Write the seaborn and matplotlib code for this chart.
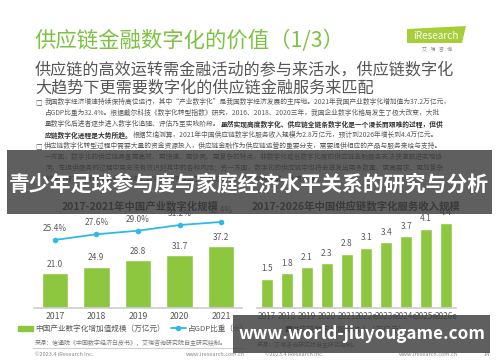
import matplotlib
matplotlib.use("Agg")
import matplotlib.pyplot as plt
import matplotlib.patches as mpatches
from matplotlib.lines import Line2D
import seaborn as sns
import numpy as np

sns.set_theme(style="white")
plt.rcParams['font.family'] = ['Noto Sans CJK SC', 'DejaVu Sans']

# data
years_left = ["2017", "2018", "2019", "2020", "2021"]
scale_left = [21.0, 24.9, 28.8, 31.7, 37.2]
gdp_share = [25.4, 27.6, 29.0, 31.2, 32.4]

years_right = ["2017", "2018", "2019", "2020", "2021",
               "2022e", "2023e", "2024e", "2025e", "2026e"]
revenue_right = [1.5, 1.8, 2.1, 2.3, 2.8, 3.1, 3.4, 3.7, 4.1, 4.4]

GREEN = "#8dc63f"
CYAN = "#2fb9e6"
GRAY = "#595959"

W, H = 500, 362
fig = plt.figure(figsize=(5, 3.62), dpi=100)
fig.patch.set_facecolor("white")


def fx(x):
    return x / W


def fy(y):
    return 1 - y / H


def txt(x, y, s, **kw):
    return fig.text(fx(x), fy(y), s, **kw)


# header
txt(35, 41, "供应链金融数字化的价值（1/3）", fontsize=15.4, color="#7dc242", va="center")
txt(35, 70, "供应链的高效运转需金融活动的参与来活水，供应链数字化", fontsize=11.6,
    color="#555555", va="center")
txt(35, 88, "大趋势下更需要数字化的供应链金融服务来匹配", fontsize=11.6,
    color="#555555", va="center")

# logo
logo = mpatches.Polygon([(fx(407), fy(43)), (fx(462), fy(43)), (fx(466), fy(26)), (fx(407), fy(29))],
                        closed=True, transform=fig.transFigure, facecolor="#a6ce39", edgecolor="none")
fig.add_artist(logo)
txt(436, 36, "iResearch", fontsize=7.2, color="white", ha="center", va="center")
txt(437, 50, "艾   瑞   咨   询", fontsize=3.6, color="#888888", ha="center", va="center")

# bullet paragraph
renderer = fig.canvas.get_renderer()


def seg_line(x, y, segments, size=4.85):
    for s, bold in segments:
        t = txt(x, y, s, fontsize=size, va="center",
                color="#333333" if bold else GRAY,
                fontweight="bold" if bold else "normal")
        bb = t.get_window_extent(renderer)
        x += bb.width


lines = [
    (36, 102, [("□ ", False), ("我国数字经济增速持续保持高位运行，其中“产业数字化”是我国数字经济发展的主阵地。2021年我国产业数字化增加值为37.2万亿元，", False)]),
    (45, 113, [("占GDP比重为32.4%。根据戴尔科技《数字化转型指数》研究，2016、2018、2020三年，我国企业数字化格局发生了极大改变，大批", False)]),
    (45, 124, [("量数字化后进者逐步进入数字化追随、评估乃至实践阶段。", False), ("虽然实现高度数字化、供应链全链条数字化是一个漫长而艰难的过程，但供", True)]),
    (45, 135, [("应链数字化进程是大势所趋。", True), ("根据艾瑞测算，2021年中国供应链数字化服务收入规模为2.8万亿元，预计到2026年增长到4.4万亿元。", False)]),
    (36, 146, [("□ ", False), ("供应链数字化转型过程中需要大量的资金资源投入，供应链金融作为供应链运营的重要分支，需要提供相应的产品与服务来给与支持。", False)]),
    (45, 157, [("一方面，数字化的供应链具备更高效、更快速、更协同、更复杂的特点，非数字化或低数字化度的供应链金融服务无法快速跟进实现协", False)]),
    (45, 168, [("同，在提供服务的过程中更无法有效识别其中的各种风险；另一方面，数字化的供应链中也将会迸发出更多数量、更高要求、更加复杂", False)]),
    (45, 179, [("的金融需求，对供应链金融服务的数字化水平提出了更高的要求，两者相辅相成、共同发展。", False)]),
]
for x, y, segs in lines:
    seg_line(x, y, segs)

# chart titles
txt(140, 206, "2017-2021年中国产业数字化规模", fontsize=7.5, fontweight="bold",
    color="#333333", ha="center", va="center")
txt(356, 206, "2017-2026年中国供应链数字化服务收入规模", fontsize=7.5, fontweight="bold",
    color="#333333", ha="center", va="center")

# left chart
axl = fig.add_axes([fx(34), fy(308), (242 - 34) / W, 93 / H])
sns.barplot(x=years_left, y=scale_left, color=GREEN, width=0.63, saturation=1, ax=axl)
axl.bar_label(axl.containers[0], fmt="%.1f", fontsize=6, color=GRAY, padding=3)
axl.set_xlim(-0.5, 4.5)
axl.set_ylim(0, 56)
axl.set_yticks([])
axl.set_facecolor("none")
for s in ["top", "left", "right"]:
    axl.spines[s].set_visible(False)
axl.spines["bottom"].set_color("#cfcfcf")
axl.tick_params(axis="x", length=0, labelsize=6.3, labelcolor=GRAY, pad=3)

axl2 = axl.twinx()
sns.lineplot(x=np.arange(len(gdp_share)), y=gdp_share, color=CYAN, marker="o",
             markersize=4, markeredgewidth=0, linewidth=1.3, ax=axl2)
for i, v in enumerate(gdp_share):
    axl2.annotate(f"{v:.1f}%", (i, v), xytext=(0, 5), textcoords="offset points",
                  ha="center", va="bottom", fontsize=6, color=GRAY)
axl2.set_ylim(-1.05, 35.1)
axl2.set_yticks([])
axl2.axis("off")

handles = [mpatches.Patch(color=GREEN, label="中国产业数字化增加值规模（万亿元）"),
           Line2D([0], [0], color=CYAN, marker="o", markersize=3, lw=1.3,
                  label="占GDP比重（%）")]
fig.legend(handles=handles, loc="center", bbox_to_anchor=(fx(133), fy(329)), ncol=2,
           frameon=False, fontsize=5.5, labelcolor=GRAY, handlelength=2.0,
           handleheight=0.55, handletextpad=0.2, columnspacing=0.8)

txt(35, 343, "来源：信通院《中国数字经济白皮书》，艾瑞咨询研究院自主研究绘制。", fontsize=4.3,
    color="#777777", va="center")
fig.add_artist(Line2D([fx(33), fx(245)], [fy(348), fy(348)], transform=fig.transFigure,
                      color="#d0d0d0", lw=0.8))
txt(35, 354, "©2023.4 iResearch Inc.", fontsize=4, color="#888888", va="center")
txt(245, 354, "www.iresearch.com.cn", fontsize=4, color="#888888", va="center", ha="right")

# right chart
axr = fig.add_axes([fx(257), fy(308), 199 / W, 93 / H])
sns.barplot(x=years_right, y=revenue_right, color=GREEN, width=0.6, saturation=1, ax=axr)
axr.bar_label(axr.containers[0], fmt="%.1f", fontsize=6, color=GRAY, padding=4)
axr.set_xlim(-0.5, 9.5)
axr.set_ylim(0, 4.8)
axr.set_yticks([])
axr.set_facecolor("none")
for s in ["top", "left", "right"]:
    axr.spines[s].set_visible(False)
axr.spines["bottom"].set_color("#cfcfcf")
axr.tick_params(axis="x", length=0, labelsize=5.9, labelcolor=GRAY, pad=3)

txt(345, 330, "■供应链数字化服务收入（万亿元）", fontsize=5.5, color=GRAY, ha="center", va="center")
txt(257, 345, "来源：艾瑞咨询研究院自主研究绘制。", fontsize=4.3, color="#777777", va="center")
txt(265, 354, "©2023.4 iResearch Inc.", fontsize=4, color="#888888", va="center")
txt(458, 354, "www.iresearch.com.cn", fontsize=4, color="#888888", va="center", ha="right")
txt(487, 354, "14", fontsize=4, color="#888888", va="center", ha="center")

# overlay bands
band1 = mpatches.Rectangle((fx(7), fy(214)), (492 - 7) / W, (214 - 150) / H,
                           transform=fig.transFigure, facecolor="#3c3c3c", alpha=0.82,
                           edgecolor="none", zorder=10)
fig.add_artist(band1)
txt(249, 184, "青少年足球参与度与家庭经济水平关系的研究与分析", fontsize=15,
    fontweight="bold", color="white", ha="center", va="center", zorder=11)

band2 = mpatches.Rectangle((fx(233), fy(353)), (490 - 233) / W, (353 - 315) / H,
                           transform=fig.transFigure, facecolor="#3c3c3c", alpha=0.82,
                           edgecolor="none", zorder=10)
fig.add_artist(band2)
txt(362, 334, "www.world-jiuyougame.com", fontsize=12.3, fontweight="bold",
    color="white", ha="center", va="center", zorder=11)

fig.savefig("out.png", dpi=100)
